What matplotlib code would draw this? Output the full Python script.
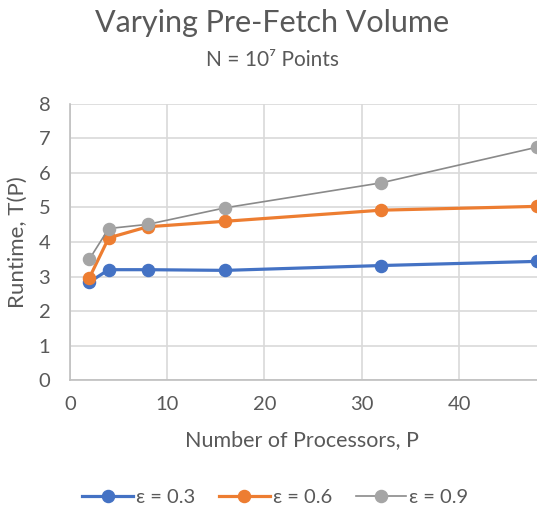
import matplotlib.pyplot as plt

plt.rcParams['font.family'] = ['Lato', 'DejaVu Sans']

procs = [2, 4, 8, 16, 32, 48]
eps_03 = [2.84, 3.20, 3.20, 3.18, 3.32, 3.44]
eps_06 = [2.96, 4.12, 4.44, 4.60, 4.92, 5.03]
eps_09 = [3.50, 4.39, 4.51, 4.99, 5.71, 6.74]
labels = ['ε = 0.3', 'ε = 0.6', 'ε = 0.9']

txt = '#595959'
grid = '#d9d9d9'

fig = plt.figure(figsize=(5.37, 5.13), dpi=100)
# plot area runs past the right edge, like the cropped original
ax = fig.add_axes([0.130, 0.2585, 0.906, 0.5395])

ax.plot(procs, eps_03, color='#4472C4', lw=2.3, marker='o', ms=8.7, label=labels[0], clip_on=False, zorder=3)
ax.plot(procs, eps_06, color='#ED7D31', lw=2.3, marker='o', ms=8.7, label=labels[1], clip_on=False, zorder=4)
ax.plot(procs, eps_09, color='#8a8a8a', lw=1.2, marker='o', ms=8.7, mfc='#A5A5A5', mec='#A5A5A5',
        label=labels[2], clip_on=False, zorder=5)

ax.set_xlim(0, 50)
ax.set_ylim(0, 8)
ax.set_xticks([0, 10, 20, 30, 40])
ax.set_yticks(range(9))
ax.grid(True, color=grid, lw=1.2)
ax.set_axisbelow(True)
for s in ['top', 'right']:
    ax.spines[s].set_visible(False)
for s in ['left', 'bottom']:
    ax.spines[s].set_color('#bfbfbf')
    ax.spines[s].set_linewidth(1.2)
ax.tick_params(length=0, labelsize=14.5, colors=txt)
ax.tick_params(axis='x', pad=11)
ax.tick_params(axis='y', pad=14)

fig.text(0.563, 0.142, 'Number of Processors, P', ha='center', va='center', fontsize=15.5, color=txt)
fig.text(0.034, 0.528, 'Runtime, T(P)', ha='center', va='center', rotation=90, fontsize=16, color=txt)

fig.text(0.506, 0.955, 'Varying Pre-Fetch Volume', ha='center', va='center', fontsize=22, color=txt)
fig.text(0.507, 0.884, 'N = 10⁷ Points', ha='center', va='center', fontsize=15, color=txt)

fig.legend(loc='center', bbox_to_anchor=(0.513, 0.031), ncol=3, frameon=False, fontsize=14.5,
           labelcolor=txt, handlelength=2.5, handletextpad=0.15, columnspacing=1.2)

fig.savefig('out.png', dpi=100)
